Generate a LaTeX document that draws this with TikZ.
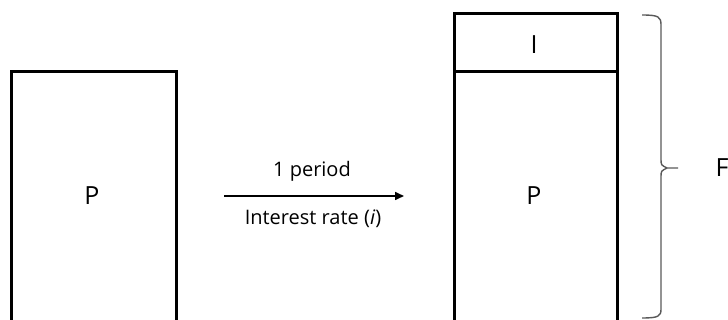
\documentclass[tikz,border=0pt]{standalone}
\usepackage{fontspec}
\setmainfont{Open Sans}
\usetikzlibrary{arrows.meta}
\begin{document}
\begin{tikzpicture}[x=1pt,y=-1pt,
  box/.style={draw=black,line width=3pt},
  lbl/.style={font=\fontsize{25}{28}\selectfont,inner sep=0pt},
  small/.style={font=\fontsize{20}{23}\selectfont,inner sep=0pt},
  bracestyle/.style={draw=gray!70!black,line width=1.4pt}]
\useasboundingbox (0,0) rectangle (728,320);
\begin{scope}
\clip (0,0) rectangle (728,320);
\draw[box] (11,72) rectangle (176,340);
\draw[box] (454,14) rectangle (617,340);
\draw[box] (454,72) -- (617,72);
\end{scope}
\node[lbl] (p1) at (92,196) {P};
\node[lbl] (p2) at (534,196) {P};
\node[lbl] (i) at (534,45) {I};
\coordinate (as) at (224,196);
\coordinate (ae) at (404,196);
\draw[line width=1.6pt,-{Triangle[length=9pt,width=8pt]}] (as) -- (ae);
\node[small] (per) at (312,171) {1 period};
\node[small] (rate) at (313,219) {Interest rate (\textit{i})};
\draw[bracestyle] (642,15) .. controls (659,15) and (661,17) .. (661,25)
  -- (661,159) .. controls (661,165) .. (667,168) -- (678,168)
  (667,168) .. controls (661,171) .. (661,177)
  -- (661,309) .. controls (661,316) and (659,318) .. (642,318);
\node[lbl] (f) at (722,168) {F};
\end{tikzpicture}
\end{document}
